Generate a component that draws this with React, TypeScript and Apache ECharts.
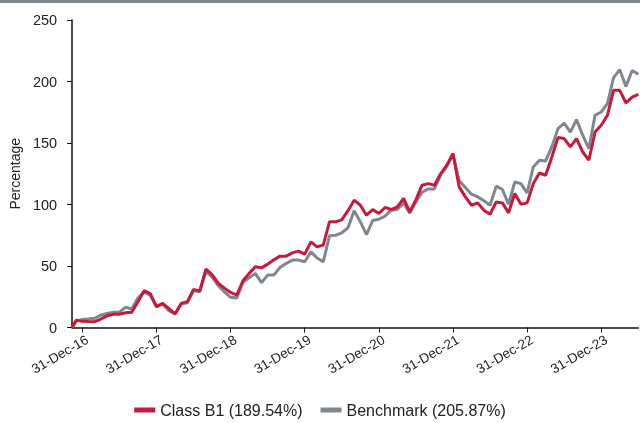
import React, { useEffect, useRef } from "react";
import * as echarts from "echarts";

// x positions: months since 31-Dec-16 (month-end points); first point is inception
const startOffset = -1.66;
const classB1: number[] = [
  0, 6, 5, 4.8, 4.7, 6.9, 9.5, 10.7, 10.8, 12, 12.3, 21, 29.9, 27.5,
  17, 19.6, 15.5, 11, 19.6, 21, 31, 29.6, 47.5, 43, 36, 32,
  28.5, 26.4, 38, 44, 49.4, 48.5, 51.5, 55, 58, 58, 60.7, 62.1,
  59.7, 69.6, 65.6, 67, 85.9, 85.9, 87.5, 95, 103.5, 99.4, 91.3, 95.9,
  92.7, 97.6, 95.9, 98.1, 104.9, 94, 104, 115.7, 117, 115.7, 125, 132,
  141.4, 114.3, 106.2, 99.4, 101.3, 95.4, 92.1, 102.1, 101.3, 93.2, 108.9, 100.2,
  101.3, 117, 125.6, 123.8, 138.6, 154.4, 153.6, 146.8, 153.6, 142.7, 136, 158.9,
  164.4, 172.5, 192.8, 192.8, 182.5, 187.3, 189.54,
];
const benchmark: number[] = [
  0, 5, 6.5, 7, 7.5, 10, 11.5, 12.5, 12.5, 16.5, 15, 24, 29, 26,
  17, 19, 13.6, 11, 19, 20, 30, 29, 45.5, 41, 34, 29,
  24.5, 24, 36.5, 40.5, 44, 36.5, 42.6, 42.6, 48.9, 52, 54.8, 54.8,
  53.4, 61.5, 56.5, 53.4, 74.5, 75, 77, 81, 95, 86, 75.5, 87,
  88, 90.5, 95.4, 96, 101.3, 93, 102, 110, 112.7, 112.7, 124, 131,
  140.5, 119.5, 113.8, 108.4, 106.2, 103, 99.4, 114.9, 112.2, 100.2, 118.3, 117,
  109.4, 130.5, 136, 135.4, 146.8, 161.7, 166.2, 158.9, 169, 156.3, 145.5, 172.5,
  175.2, 182, 203.1, 209.6, 196, 209, 205.87,
];
const tickMonths = [0, 12, 24, 36, 48, 60, 72, 84];
const tickLabels = [
  "31-Dec-16", "31-Dec-17", "31-Dec-18", "31-Dec-19",
  "31-Dec-20", "31-Dec-21", "31-Dec-22", "31-Dec-23",
];
const seriesNames = ["Class B1 (189.54%)", "Benchmark (205.87%)"];

const xs: number[] = classB1.map((_, i) => (i === 0 ? startOffset : i - 2));
const labelShift = 0.8;

export default function App() {
  const ref = useRef<HTMLDivElement>(null);
  useEffect(() => {
    if (!ref.current) return;
    const chart = echarts.init(ref.current, null, { renderer: "svg" });
    const font = "Liberation Sans, Arial, sans-serif";
    chart.setOption({
      animation: false,
      textStyle: { fontFamily: font },
      graphic: [
        {
          type: "rect",
          left: 0,
          top: 0,
          shape: { width: 640, height: 3 },
          style: { fill: "#7f878e" },
        },
      ],
      grid: { left: 70.7, right: 1.7, top: 20, bottom: 95.5 },
      legend: {
        bottom: 0,
        left: "center",
        itemWidth: 21,
        itemHeight: 5,
        itemGap: 18,
        icon: "rect",
        textStyle: { fontSize: 16, color: "#222", fontFamily: font },
        data: seriesNames,
      },
      xAxis: {
        type: "value",
        min: startOffset,
        max: 90,
        axisLine: { show: true, onZero: false, lineStyle: { color: "#111", width: 1.5 } },
        axisTick: {
          show: true,
          customValues: tickMonths,
          length: 5,
          lineStyle: { color: "#111" },
        },
        axisLabel: {
          customValues: tickMonths.map((m) => m + labelShift),
          rotate: 30,
          fontSize: 13.5,
          color: "#222",
          margin: 11,
          formatter: (v: number) => tickLabels[tickMonths.indexOf(Math.round(v - labelShift))] ?? "",
        },
        splitLine: { show: false },
      },
      yAxis: {
        type: "value",
        min: 0,
        max: 250,
        interval: 50,
        name: "Percentage",
        nameLocation: "middle",
        nameGap: 45,
        nameTextStyle: { fontSize: 14, color: "#222" },
        axisLine: { show: true, onZero: false, lineStyle: { color: "#111", width: 1.5 } },
        axisTick: { show: true, length: 5, lineStyle: { color: "#111" } },
        axisLabel: { fontSize: 14.5, color: "#222", margin: 15 },
        splitLine: { show: false },
      },
      series: [
        {
          name: seriesNames[0],
          type: "line",
          data: xs.map((x, i) => [x, classB1[i]]),
          symbol: "none",
          z: 3,
          lineStyle: { color: "#c8193c", width: 3 },
          itemStyle: { color: "#c8193c" },
        },
        {
          name: seriesNames[1],
          type: "line",
          data: xs.map((x, i) => [x, benchmark[i]]),
          symbol: "none",
          z: 2,
          lineStyle: { color: "#80878e", width: 3 },
          itemStyle: { color: "#80878e" },
        },
      ],
    });
    return () => chart.dispose();
  }, []);
  return (
    <div
      ref={ref}
      style={{ position: "fixed", left: 0, top: 0, width: 640, height: 423 }}
    />
  );
}
